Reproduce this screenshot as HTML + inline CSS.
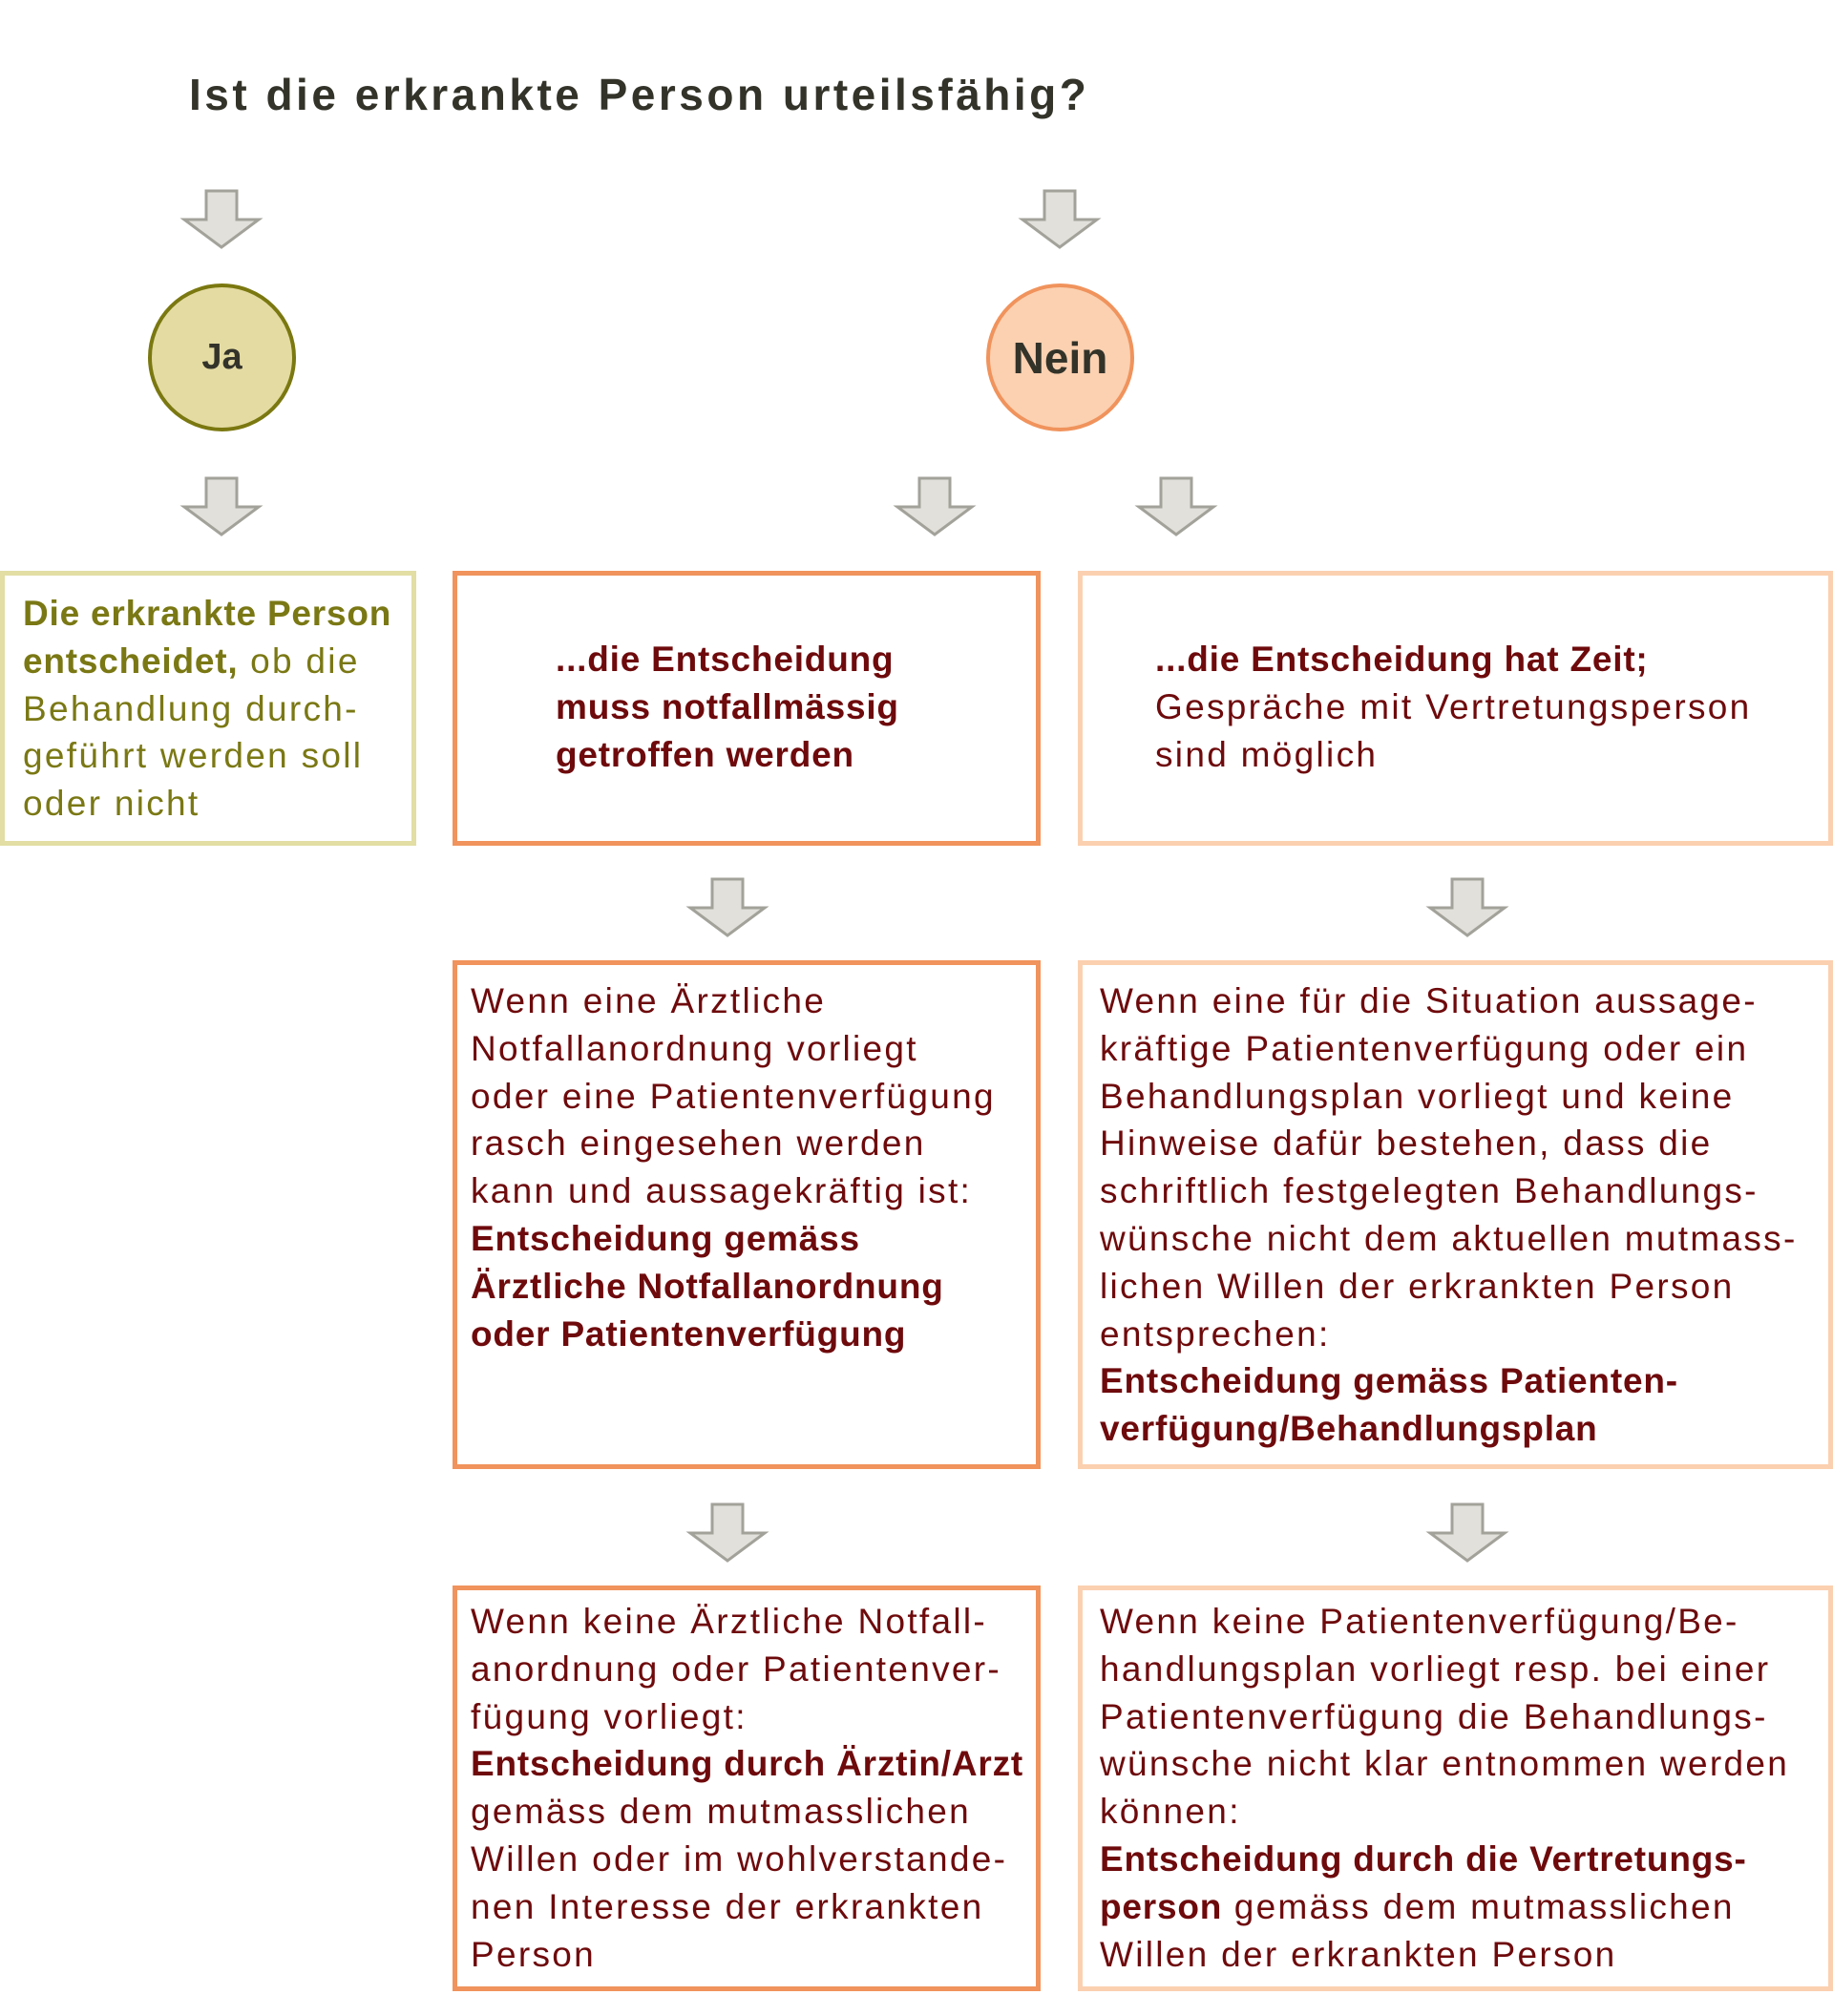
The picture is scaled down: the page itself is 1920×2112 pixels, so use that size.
<!DOCTYPE html>
<html><head><meta charset="utf-8"><style>
body{margin:0;width:1920px;height:2112px;background:#fff;position:relative;overflow:hidden;font-family:"Liberation Sans",sans-serif;}
.a{position:absolute;}
.box{position:absolute;box-sizing:border-box;border:5px solid;}
.t{position:absolute;font-size:37px;line-height:49.8px;white-space:nowrap;color:#6e0a0c;letter-spacing:2.3px;}
b{font-weight:bold;letter-spacing:0.8px;}
.circ{position:absolute;box-sizing:border-box;border-radius:50%;border:4px solid;display:flex;align-items:center;justify-content:center;font-weight:bold;color:#33332a;}
</style></head><body>
<div class="a" style="left:198px;top:72px;font-size:46px;font-weight:bold;color:#33332a;letter-spacing:3.5px;white-space:nowrap;">Ist die erkrankte Person urteilsfähig?</div>

<svg class="a" style="left:0;top:0" width="1920" height="2112">
<defs><polygon id="ar" points="-16,0 16,0 16,30 39,30 0,59 -39,30 -16,30" fill="#e2e0da" stroke="#a3a29a" stroke-width="3"/></defs>
<use href="#ar" x="232" y="200"/>
<use href="#ar" x="1110" y="200"/>
<use href="#ar" x="232" y="501"/>
<use href="#ar" x="979" y="501"/>
<use href="#ar" x="1232" y="501"/>
<use href="#ar" x="762" y="921"/>
<use href="#ar" x="1537" y="921"/>
<use href="#ar" x="762" y="1576"/>
<use href="#ar" x="1537" y="1576"/>
</svg>

<div class="circ" style="left:155px;top:297px;width:155px;height:155px;background:#e3dba2;border-color:#7a7810;font-size:38px;">Ja</div>
<div class="circ" style="left:1033px;top:297px;width:155px;height:155px;background:#fbd1b1;border-color:#f0935c;font-size:46px;">Nein</div>

<div class="box" style="left:0;top:598px;width:436px;height:288px;border-color:#e2dea4;"></div>
<div class="t" style="left:24px;top:618px;color:#7a7814;">
<b>Die erkrankte Person</b><br><b>entscheidet,</b> ob die<br>Behandlung durch-<br>geführt werden soll<br>oder nicht</div>

<div class="box" style="left:474px;top:598px;width:616px;height:288px;border-color:#f0935c;"></div>
<div class="t" style="left:582px;top:666px;"><b>...die Entscheidung<br>muss notfallmässig<br>getroffen werden</b></div>

<div class="box" style="left:1129px;top:598px;width:791px;height:288px;border-color:#fbd0b0;"></div>
<div class="t" style="left:1210px;top:666px;"><b>...die Entscheidung hat Zeit;</b><br>Gespräche mit Vertretungsperson<br>sind möglich</div>

<div class="box" style="left:474px;top:1006px;width:616px;height:533px;border-color:#f0935c;"></div>
<div class="t" style="left:493px;top:1024px;">Wenn eine Ärztliche<br>Notfallanordnung vorliegt<br>oder eine Patientenverfügung<br>rasch eingesehen werden<br>kann und aussagekräftig ist:<br><b>Entscheidung gemäss<br>Ärztliche Notfallanordnung<br>oder Patientenverfügung</b></div>

<div class="box" style="left:1129px;top:1006px;width:791px;height:533px;border-color:#fbd0b0;"></div>
<div class="t" style="left:1152px;top:1024px;">Wenn eine für die Situation aussage-<br>kräftige Patientenverfügung oder ein<br>Behandlungsplan vorliegt und keine<br>Hinweise dafür bestehen, dass die<br>schriftlich festgelegten Behandlungs-<br>wünsche nicht dem aktuellen mutmass-<br>lichen Willen der erkrankten Person<br>entsprechen:<br><b>Entscheidung gemäss Patienten-<br>verfügung/Behandlungsplan</b></div>

<div class="box" style="left:474px;top:1661px;width:616px;height:425px;border-color:#f0935c;"></div>
<div class="t" style="left:493px;top:1674px;">Wenn keine Ärztliche Notfall-<br>anordnung oder Patientenver-<br>fügung vorliegt:<br><b>Entscheidung durch Ärztin/Arzt</b><br>gemäss dem mutmasslichen<br>Willen oder im wohlverstande-<br>nen Interesse der erkrankten<br>Person</div>

<div class="box" style="left:1129px;top:1661px;width:791px;height:425px;border-color:#fbd0b0;"></div>
<div class="t" style="left:1152px;top:1674px;">Wenn keine Patientenverfügung/Be-<br>handlungsplan vorliegt resp. bei einer<br>Patientenverfügung die Behandlungs-<br>wünsche nicht klar entnommen werden<br>können:<br><b>Entscheidung durch die Vertretungs-<br>person</b> gemäss dem mutmasslichen<br>Willen der erkrankten Person</div>
</body></html>
